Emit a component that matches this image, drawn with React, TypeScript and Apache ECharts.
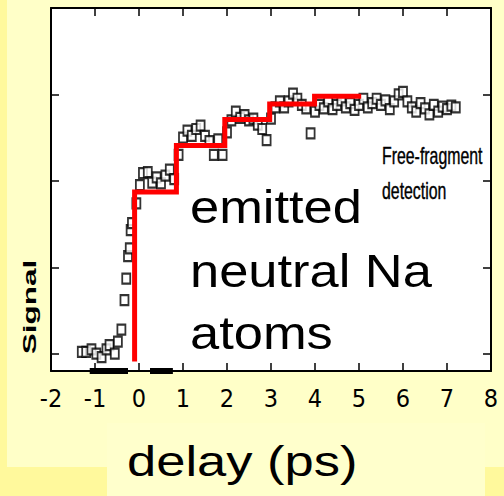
import React, { useEffect, useRef } from "react";
import * as echarts from "echarts";

// measured delays (ps) and signal (arb. units)
const delays = [
  -1.3, -1.2, -1.08, -0.97, -0.85, -0.74, -0.67, -0.55, -0.48, -0.4, -0.33, -0.29,
  -0.25, -0.21, -0.19, -0.16, -0.06, 0.02, 0.09, 0.2, 0.3, 0.4, 0.5, 0.6, 0.7, 0.8,
  0.9, 1.0, 1.1, 1.2, 1.3, 1.4, 1.5, 1.6, 1.7, 1.8, 1.9, 2.0, 2.1, 2.2, 2.3, 2.4,
  2.5, 2.6, 2.7, 2.8, 2.9, 3.0, 3.1, 3.2, 3.3, 3.4, 3.5, 3.6, 3.7, 3.8, 3.9, 4.0,
  4.1, 4.2, 4.3, 4.4, 4.5, 4.6, 4.7, 4.8, 4.9, 5.0, 5.1, 5.2, 5.3, 5.4, 5.5, 5.6,
  5.7, 5.8, 5.9, 6.0, 6.1, 6.2, 6.3, 6.4, 6.5, 6.6, 6.7, 6.8, 6.9, 7.0, 7.1, 7.2,
];
const signal = [
  0.02, 0.02, 0.05, 0.0, -0.04, 0.05, 0.1, 0.0, 0.14, 0.28, 0.62, 0.87,
  1.13, 1.22, 1.43, 1.51, 1.74, 1.95, 2.09, 2.1, 1.98, 2.04, 1.97, 2.06, 2.13, 2.02,
  2.3, 2.5, 2.58, 2.52, 2.6, 2.64, 2.52, 2.46, 2.3, 2.48, 2.3, 2.56, 2.7, 2.8, 2.73, 2.76,
  2.7, 2.72, 2.65, 2.6, 2.47, 2.72, 2.85, 2.92, 2.85, 2.92, 3.01, 2.95, 2.88, 2.84, 2.55, 2.8,
  2.88, 2.84, 2.92, 2.83, 2.88, 2.93, 2.85, 2.9, 2.82, 2.88, 2.95, 2.85, 2.9, 2.95, 2.88, 2.93,
  2.83, 2.92, 3.0, 3.03, 2.92, 2.85, 2.8, 2.9, 2.84, 2.77, 2.88, 2.8, 2.86, 2.83, 2.87, 2.85,
];

// red step fit: edges (ps) and plateau levels
const stepEdges = [-0.1, 0.85, 1.95, 2.97, 3.99, 5.05];
const stepLevels = [1.87, 2.41, 2.71, 2.89, 2.98];
const stepStart = -0.09;

// y-axis tick values
const yTickValues = [0, 1, 2, 3];

// dark smudges on the bottom axis (from, to) in ps
const smudgeSegments = [
  [-1.12, -0.25],
  [0.25, 0.77],
];

const narrow = "'Liberation Sans Narrow', 'Arial Narrow', 'DejaVu Sans Condensed', sans-serif";
const sans = "'Liberation Sans', Arial, sans-serif";

export default function App() {
  const ref = useRef<HTMLDivElement>(null);

  useEffect(() => {
    if (!ref.current) return;
    const chart = echarts.init(ref.current, undefined, { renderer: "svg" });

    const stepPts: number[][] = [[stepEdges[0], stepStart]];
    stepLevels.forEach((lv, i) => {
      stepPts.push([stepEdges[i], lv]);
      stepPts.push([stepEdges[i + 1], lv]);
    });

    const axisLine = { show: true, onZero: false, lineStyle: { color: "#000", width: 2 } };
    const tick = { show: true, inside: true, length: 8, lineStyle: { color: "#000", width: 1.5 } };

    chart.setOption({
      animation: false,
      backgroundColor: "transparent",
      grid: {
        left: 51,
        top: 8,
        width: 440,
        height: 363,
        show: true,
        backgroundColor: "#fff",
        borderWidth: 0,
      },
      xAxis: [
        {
          type: "value",
          min: -2,
          max: 8,
          interval: 1,
          position: "bottom",
          axisLine,
          axisTick: tick,
          splitLine: { show: false },
          axisLabel: {
            color: "#000",
            fontSize: 25,
            fontFamily: narrow,
            margin: 15,
          },
        },
        {
          type: "value",
          min: -2,
          max: 8,
          interval: 1,
          position: "top",
          axisLine,
          axisTick: tick,
          splitLine: { show: false },
          axisLabel: { show: false },
        },
      ],
      yAxis: [
        {
          type: "value",
          min: -0.2,
          max: 4,
          position: "left",
          axisLine,
          axisTick: { ...tick, customValues: yTickValues },
          splitLine: { show: false },
          axisLabel: { show: false },
        },
        {
          type: "value",
          min: -0.2,
          max: 4,
          position: "right",
          axisLine,
          axisTick: { ...tick, customValues: yTickValues },
          splitLine: { show: false },
          axisLabel: { show: false },
        },
      ],
      series: [
        ...smudgeSegments.map((seg) => ({
          type: "line",
          data: [
            [seg[0], -0.2],
            [seg[1], -0.2],
          ],
          symbol: "none",
          clip: false,
          lineStyle: { color: "#000", width: 6 },
          z: 3,
        })),
        {
          type: "scatter",
          data: delays.map((d, i) => [d, signal[i]]),
          symbol: "rect",
          symbolSize: [8, 10],
          itemStyle: { color: "#fff", borderColor: "#000", borderWidth: 2 },
          z: 4,
        },
        {
          type: "line",
          data: stepPts,
          symbol: "none",
          lineStyle: { color: "#ff0000", width: 5, join: "miter" },
          z: 5,
        },
      ],
      graphic: [
        {
          type: "text",
          x: 382,
          y: 156,
          scaleX: 0.69,
          z: 100,
          style: { text: "Free-fragment", fontSize: 23, fontFamily: sans, fill: "#000", textVerticalAlign: "middle", stroke: "#000", lineWidth: 0.4 },
        },
        {
          type: "text",
          x: 382,
          y: 191,
          scaleX: 0.69,
          z: 100,
          style: { text: "detection", fontSize: 23, fontFamily: sans, fill: "#000", textVerticalAlign: "middle", stroke: "#000", lineWidth: 0.4 },
        },
        ...["emitted", "neutral Na", "atoms"].map((t, i) => ({
          type: "text",
          x: 190,
          y: [207, 271, 333][i],
          scaleX: 1.14,
          z: 100,
          style: { text: t, fontSize: 46, fontFamily: sans, fill: "#000", textVerticalAlign: "middle" },
        })),
        {
          type: "text",
          x: 127,
          y: 461,
          scaleX: 1.25,
          z: 100,
          style: { text: "delay (ps)", fontSize: 42, fontFamily: sans, fill: "#000", textVerticalAlign: "middle" },
        },
        {
          type: "text",
          x: 30,
          y: 307,
          rotation: Math.PI / 2,
          scaleX: 1.75,
          z: 100,
          style: {
            text: "Signal",
            fontSize: 18,
            fontWeight: "bold",
            fontFamily: sans,
            fill: "#000",
            textAlign: "center",
            textVerticalAlign: "middle",
          },
        },
      ],
    });

    return () => chart.dispose();
  }, []);

  return (
    <div style={{ position: "fixed", left: 0, top: 0, width: 504, height: 496, background: "#FFF99C", overflow: "hidden" }}>
      <div style={{ position: "absolute", left: 7, top: 0, width: 497, height: 467, background: "#FFFFC8" }} />
      <div style={{ position: "absolute", left: 107, top: 423, width: 378, height: 73, background: "#FFFFCC" }} />
      <div ref={ref} style={{ position: "absolute", left: 0, top: 0, width: 504, height: 496 }} />
    </div>
  );
}
